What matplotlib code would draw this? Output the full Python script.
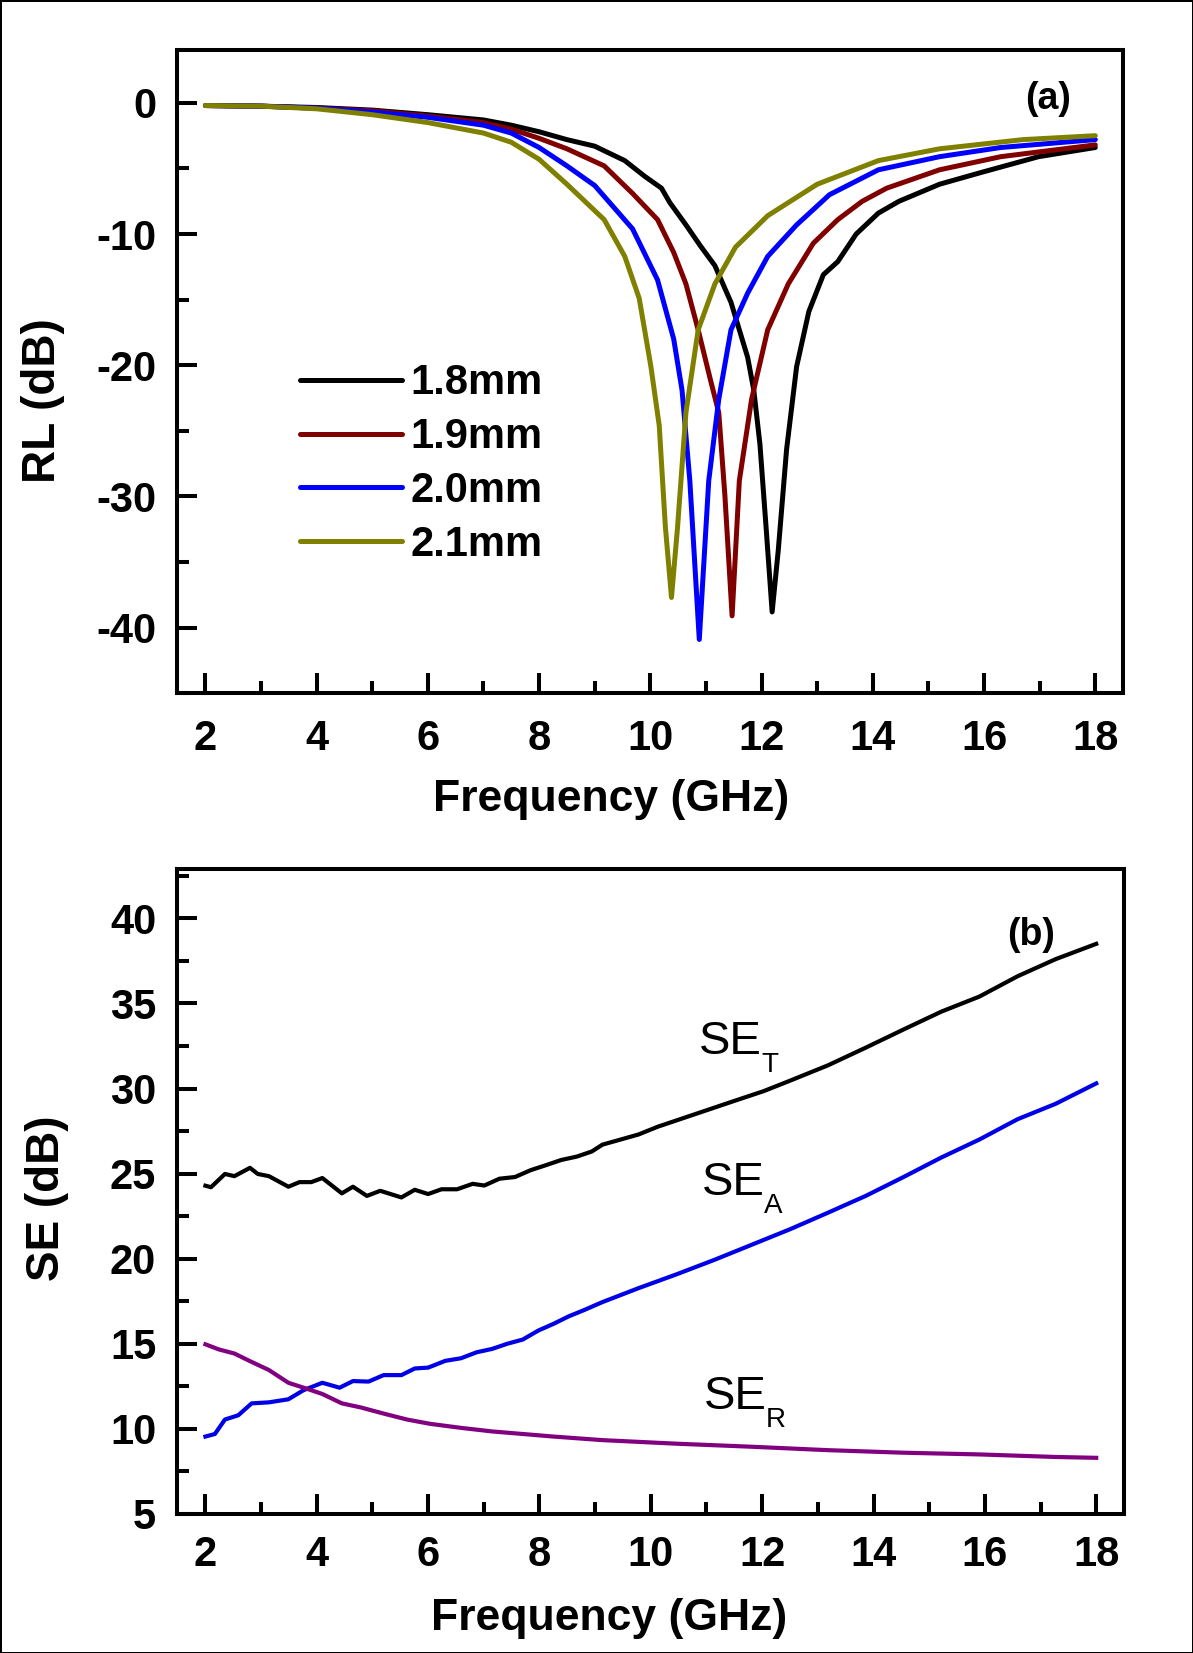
"""
Two-panel figure: (a) reflection loss vs frequency for four thicknesses,
(b) shielding effectiveness (SE_T, SE_A, SE_R) vs frequency.
"""

import matplotlib
matplotlib.use('Agg')
import matplotlib.pyplot as plt
from matplotlib.ticker import MultipleLocator

plt.rcParams['font.family'] = ['Liberation Sans', 'DejaVu Sans']
plt.rcParams['font.weight'] = 'bold'
plt.rcParams['axes.unicode_minus'] = False


# ── Data: (a) reflection loss ────────────────────────────────────────────────
f_18 = [2.0, 3.0, 4.0, 5.0, 6.0, 7.0, 7.5, 8.0, 8.5, 9.0, 9.54, 9.9, 10.2,
        10.35, 10.64, 10.9, 11.16, 11.45, 11.75, 11.86, 11.97, 12.08, 12.19,
        12.3, 12.45, 12.63, 12.85, 13.11, 13.37, 13.7, 14.1, 14.47, 15.2,
        15.95, 16.98, 18.0]
rl_18 = [-0.2, -0.25, -0.35, -0.55, -0.9, -1.3, -1.7, -2.2, -2.8, -3.3, -4.4,
         -5.6, -6.5, -7.6, -9.3, -10.9, -12.4, -15.2, -19.4, -21.9, -26.0,
         -32.3, -38.8, -34.1, -26.4, -20.1, -15.9, -13.1, -12.1, -10.0, -8.4,
         -7.5, -6.2, -5.3, -4.1, -3.4]

f_19 = [2.0, 3.0, 4.0, 5.0, 6.0, 7.0, 7.5, 8.0, 8.5, 9.17, 9.68, 10.13, 10.42,
        10.64, 10.86, 11.08, 11.23, 11.34, 11.47, 11.6, 11.82, 12.11, 12.48,
        12.93, 13.37, 13.81, 14.25, 15.2, 16.3, 18.0]
rl_19 = [-0.2, -0.25, -0.4, -0.6, -1.0, -1.5, -2.0, -2.7, -3.5, -4.8, -6.9,
         -8.9, -11.4, -13.8, -17.3, -21.1, -23.6, -29.9, -39.1, -28.8, -22.6,
         -17.3, -13.8, -10.7, -8.9, -7.5, -6.5, -5.1, -4.1, -3.2]

f_20 = [2.0, 3.0, 4.0, 5.0, 6.0, 7.0, 7.5, 8.0, 8.5, 9.0, 9.68, 10.13, 10.42,
        10.57, 10.71, 10.88, 11.05, 11.23, 11.45, 11.75, 12.11, 12.63, 13.22,
        14.1, 15.2, 16.3, 18.0]
rl_20 = [-0.2, -0.25, -0.4, -0.7, -1.1, -1.7, -2.3, -3.4, -4.8, -6.3, -9.6,
         -13.5, -18.0, -21.9, -28.8, -40.9, -28.8, -22.6, -17.3, -14.5, -11.7,
         -9.3, -7.0, -5.1, -4.1, -3.4, -2.8]

f_21 = [2.0, 3.0, 4.0, 5.0, 6.0, 7.0, 7.5, 8.0, 8.5, 9.17, 9.54, 9.8, 10.01,
        10.16, 10.27, 10.38, 10.49, 10.64, 10.86, 11.16, 11.53, 12.11, 13.0,
        14.1, 15.2, 16.7, 18.0]
rl_21 = [-0.2, -0.25, -0.45, -0.9, -1.5, -2.3, -3.0, -4.3, -6.2, -8.9, -11.7,
         -14.9, -20.1, -24.6, -32.3, -37.7, -32.3, -23.6, -17.3, -13.8, -11.0,
         -8.6, -6.2, -4.4, -3.5, -2.8, -2.5]

rl_labels = ['1.8mm', '1.9mm', '2.0mm', '2.1mm']
rl_colors = ['#000000', '#800000', '#0000ff', '#808000']

# ── Data: (b) shielding effectiveness ────────────────────────────────────────
f_set = [2.0, 2.1, 2.35, 2.52, 2.8, 2.94, 3.14, 3.49, 3.69, 3.9, 4.1, 4.45,
         4.65, 4.9, 5.14, 5.52, 5.76, 6.0, 6.24, 6.52, 6.8, 7.01, 7.28, 7.56,
         7.84, 8.12, 8.39, 8.67, 8.94, 9.13, 9.78, 10.12, 10.8, 11.48, 12.03,
         12.5, 13.18, 13.86, 14.54, 15.22, 15.9, 16.59, 17.27, 18.0]
se_t = [24.29, 24.2, 24.98, 24.85, 25.34, 24.98, 24.85, 24.23, 24.5, 24.5,
        24.74, 23.84, 24.23, 23.69, 23.99, 23.6, 24.05, 23.8, 24.08, 24.08,
        24.4, 24.3, 24.7, 24.8, 25.2, 25.5, 25.8, 26.0, 26.3, 26.7, 27.3,
        27.75, 28.5, 29.25, 29.85, 30.46, 31.36, 32.4, 33.47, 34.52, 35.4,
        36.6, 37.6, 38.5]

f_sea = [2.0, 2.17, 2.35, 2.59, 2.83, 3.14, 3.49, 3.76, 4.1, 4.41, 4.65, 4.93,
         5.2, 5.52, 5.76, 6.0, 6.31, 6.59, 6.87, 7.15, 7.42, 7.7, 7.98, 8.25,
         8.53, 8.8, 9.13, 9.78, 10.46, 11.14, 11.82, 12.5, 13.18, 13.86, 14.54,
         15.22, 15.9, 16.59, 17.27, 18.0]
se_a = [9.55, 9.7, 10.55, 10.8, 11.5, 11.56, 11.74, 12.27, 12.71, 12.42,
        12.81, 12.78, 13.16, 13.16, 13.55, 13.6, 14.0, 14.15, 14.5, 14.7,
        15.0, 15.25, 15.78, 16.17, 16.62, 16.98, 17.45, 18.27, 19.08, 19.93,
        20.83, 21.73, 22.7, 23.69, 24.8, 25.95, 27.0, 28.2, 29.1, 30.3]

f_ser = [2.0, 2.24, 2.52, 2.8, 3.14, 3.49, 3.83, 4.1, 4.45, 4.79, 5.2, 5.62,
         6.03, 6.59, 7.15, 7.7, 8.25, 9.13, 10.46, 11.82, 13.18, 14.54, 15.9,
         17.27, 18.0]
se_r = [14.97, 14.67, 14.43, 13.98, 13.46, 12.71, 12.35, 12.05, 11.5, 11.26,
        10.9, 10.55, 10.3, 10.06, 9.85, 9.7, 9.55, 9.34, 9.13, 8.95, 8.75,
        8.6, 8.5, 8.35, 8.3]

se_labels = ['T', 'A', 'R']
se_colors = ['#000000', '#0000e6', '#800080']
se_label_pos = [(10.87, 32.0), (10.92, 23.74), (10.95, 11.14)]


# ── Figure ───────────────────────────────────────────────────────────────────
fig = plt.figure(figsize=(11.93, 16.53), dpi=100)
fig.patch.set_edgecolor('black')
fig.patch.set_linewidth(2)

ax1 = fig.add_axes([0.1484, 0.5806, 0.793, 0.3889])
ax2 = fig.add_axes([0.1484, 0.0841, 0.7938, 0.3902])


def style_axes(ax, xpad):
    for s in ax.spines.values():
        s.set_linewidth(2.9)
    ax.tick_params(which='both', direction='in', width=2.9,
                   top=False, right=False)
    ax.tick_params(which='major', length=14.4, pad=15, labelsize=30)
    ax.tick_params(axis='x', which='major', pad=xpad)
    ax.tick_params(which='minor', length=8.4)
    ax.xaxis.set_major_locator(MultipleLocator(2))
    ax.xaxis.set_minor_locator(MultipleLocator(1))
    ax.set_xlim(1.49, 18.5)


# ── Panel (a) ────────────────────────────────────────────────────────────────
for f, rl, lab, c in zip([f_18, f_19, f_20, f_21], [rl_18, rl_19, rl_20, rl_21],
                         rl_labels, rl_colors):
    ax1.plot(f, rl, color=c, lw=3.6, label=lab, solid_capstyle='round',
             solid_joinstyle='round')

style_axes(ax1, 18.5)
ax1.set_ylim(-45, 4)
ax1.yaxis.set_major_locator(MultipleLocator(10))
ax1.yaxis.set_minor_locator(MultipleLocator(5))
ax1.set_xlabel('Frequency (GHz)', fontsize=32, fontweight='bold')
ax1.set_ylabel('RL (dB)', fontsize=33, fontweight='bold')
ax1.xaxis.set_label_coords(0.459, -0.134)
ax1.yaxis.set_label_coords(-0.118, 0.456)
ax1.text(0.921, 0.924, '(a)', transform=ax1.transAxes, fontsize=27,
         fontweight='bold', ha='center', va='center')
ax1.legend(loc='upper left', bbox_to_anchor=(0.130, 0.513), frameon=False,
           borderpad=0, borderaxespad=0, handlelength=2.45,
           handletextpad=0.2, labelspacing=0.33,
           prop={'size': 30, 'weight': 'bold'})

# ── Panel (b) ────────────────────────────────────────────────────────────────
for f, se, c in zip([f_set, f_sea, f_ser], [se_t, se_a, se_r], se_colors):
    ax2.plot(f, se, color=c, lw=3.0, solid_joinstyle='round')

for sub, (x, y) in zip(se_labels, se_label_pos):
    ax2.text(x, y, 'SE', fontsize=34, fontweight='normal',
             ha='left', va='baseline')
    ax2.annotate(sub, xy=(x, y), xytext=(44.5, -12.7),
                 textcoords='offset points', fontsize=20,
                 fontweight='normal', ha='left', va='baseline')

style_axes(ax2, 15)
ax2.set_ylim(5, 42.9)
ax2.yaxis.set_major_locator(MultipleLocator(5))
ax2.yaxis.set_minor_locator(MultipleLocator(2.5))
ax2.set_xlabel('Frequency (GHz)', fontsize=32, fontweight='bold')
ax2.set_ylabel('SE (dB)', fontsize=33, fontweight='bold')
ax2.xaxis.set_label_coords(0.456, -0.130)
ax2.yaxis.set_label_coords(-0.114, 0.49)
ax2.text(0.902, 0.8975, '(b)', transform=ax2.transAxes, fontsize=27,
         fontweight='bold', ha='center', va='center')

fig.savefig('out.png', dpi=100)
plt.close(fig)
print('saved out.png')
